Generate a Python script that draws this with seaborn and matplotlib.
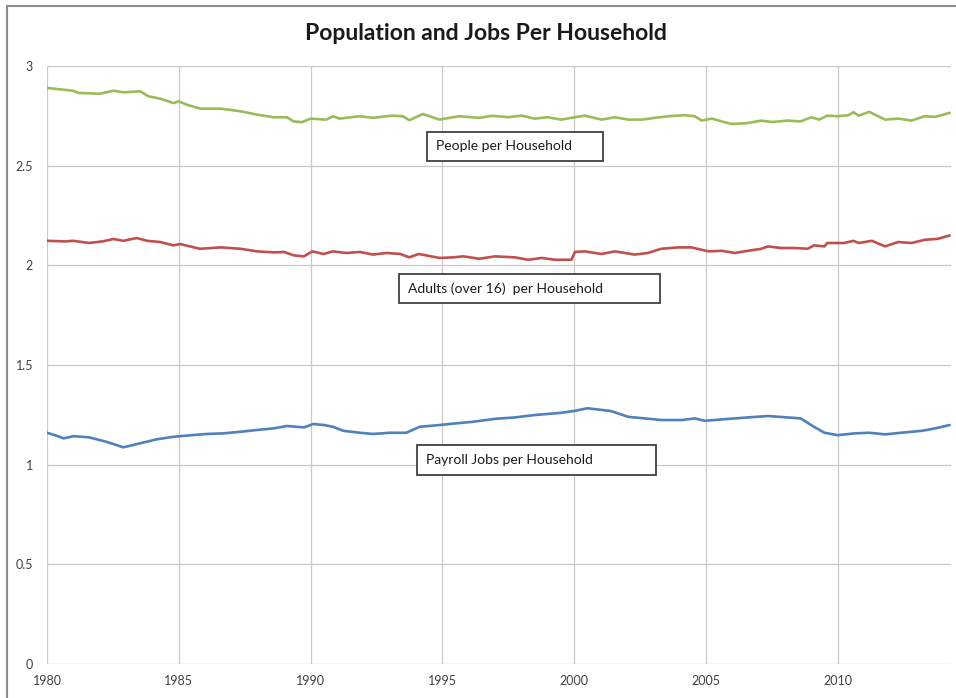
import matplotlib
matplotlib.use("Agg")
import matplotlib.pyplot as plt
from matplotlib.patches import Rectangle
import numpy as np
import pandas as pd
import seaborn as sns

# ---- data -------------------------------------------------------------
people_years = [1980.0, 1980.62, 1980.99, 1981.19, 1982.01, 1982.52, 1982.9, 1983.53,
                1983.85, 1984.3, 1984.8, 1985.0, 1985.3, 1985.82, 1986.58, 1987.34,
                1987.97, 1988.6, 1989.1, 1989.36, 1989.67, 1990.0, 1990.6, 1990.85,
                1991.1, 1991.87, 1992.37, 1993.1, 1993.5, 1993.75, 1994.26, 1994.9,
                1995.1, 1995.65, 1996.4, 1996.9, 1997.5, 1998.0, 1998.5, 1999.0,
                1999.5, 2000.03, 2000.4, 2001.04, 2001.55, 2002.05, 2002.56, 2003.07,
                2003.57, 2004.2, 2004.58, 2004.84, 2005.22, 2005.6, 2005.98, 2006.6,
                2007.1, 2007.5, 2008.1, 2008.6, 2009.0, 2009.3, 2009.6, 2010.0,
                2010.4, 2010.6, 2010.8, 2011.2, 2011.8, 2012.3, 2012.8, 2013.3,
                2013.7, 2014.25]
people_vals = [2.890, 2.881, 2.876, 2.865, 2.861, 2.876, 2.868, 2.873,
               2.848, 2.836, 2.814, 2.823, 2.806, 2.786, 2.786, 2.773,
               2.756, 2.743, 2.743, 2.722, 2.718, 2.736, 2.731, 2.748,
               2.736, 2.748, 2.740, 2.751, 2.748, 2.728, 2.759, 2.731,
               2.736, 2.748, 2.740, 2.750, 2.743, 2.751, 2.736, 2.743,
               2.731, 2.743, 2.751, 2.731, 2.743, 2.731, 2.731, 2.740,
               2.748, 2.753, 2.748, 2.726, 2.736, 2.722, 2.709, 2.714,
               2.726, 2.719, 2.726, 2.722, 2.743, 2.731, 2.751, 2.748,
               2.753, 2.768, 2.751, 2.770, 2.731, 2.736, 2.726, 2.748,
               2.745, 2.765]

adult_years = [1980.0, 1980.7, 1981.0, 1981.6, 1982.1, 1982.52, 1982.9, 1983.4,
               1983.8, 1984.3, 1984.8, 1985.05, 1985.8, 1986.6, 1987.34, 1987.97,
               1988.6, 1989.0, 1989.36, 1989.75, 1990.06, 1990.5, 1990.85, 1991.35,
               1991.87, 1992.37, 1992.88, 1993.4, 1993.75, 1994.1, 1994.9, 1995.4,
               1995.8, 1996.4, 1997.0, 1997.75, 1998.26, 1998.77, 1999.27, 1999.9,
               2000.03, 2000.4, 2001.04, 2001.55, 2002.3, 2002.8, 2003.3, 2003.95,
               2004.45, 2005.1, 2005.6, 2006.1, 2006.6, 2007.1, 2007.35, 2007.85,
               2008.36, 2008.86, 2009.1, 2009.5, 2009.6, 2010.25, 2010.6, 2010.8,
               2011.3, 2011.8, 2012.3, 2012.8, 2013.3, 2013.8, 2014.25]
adult_vals = [2.123, 2.120, 2.123, 2.112, 2.120, 2.132, 2.123, 2.137,
              2.123, 2.117, 2.100, 2.107, 2.083, 2.090, 2.083, 2.070,
              2.065, 2.067, 2.050, 2.045, 2.070, 2.057, 2.070, 2.062,
              2.067, 2.054, 2.062, 2.057, 2.040, 2.057, 2.037, 2.040,
              2.045, 2.033, 2.045, 2.040, 2.028, 2.037, 2.028, 2.028,
              2.067, 2.070, 2.057, 2.070, 2.054, 2.062, 2.083, 2.090,
              2.090, 2.070, 2.073, 2.062, 2.073, 2.083, 2.095, 2.087,
              2.087, 2.083, 2.100, 2.095, 2.112, 2.112, 2.123, 2.112,
              2.123, 2.095, 2.117, 2.112, 2.128, 2.133, 2.150]

jobs_years = [1980.0, 1980.3, 1980.63, 1981.0, 1981.6, 1982.25, 1982.9, 1983.53,
              1984.16, 1984.8, 1985.4, 1986.06, 1986.7, 1987.34, 1987.97, 1988.6,
              1989.1, 1989.75, 1990.1, 1990.5, 1990.85, 1991.24, 1991.87, 1992.37,
              1993.0, 1993.63, 1994.14, 1994.9, 1995.5, 1996.15, 1997.0, 1997.75,
              1998.5, 1999.5, 2000.03, 2000.5, 2001.4, 2002.05, 2002.7, 2003.3,
              2004.1, 2004.58, 2004.96, 2005.6, 2006.1, 2006.6, 2007.35, 2008.1,
              2008.6, 2009.1, 2009.5, 2010.0, 2010.65, 2011.2, 2011.8, 2012.4,
              2013.2, 2013.7, 2014.25]
jobs_vals = [1.160, 1.148, 1.132, 1.143, 1.137, 1.115, 1.087, 1.107,
             1.127, 1.140, 1.147, 1.154, 1.157, 1.165, 1.174, 1.182,
             1.194, 1.187, 1.204, 1.199, 1.190, 1.170, 1.160, 1.154,
             1.160, 1.160, 1.190, 1.199, 1.207, 1.215, 1.230, 1.237,
             1.249, 1.260, 1.270, 1.283, 1.269, 1.240, 1.232, 1.224,
             1.224, 1.232, 1.220, 1.227, 1.232, 1.237, 1.244, 1.237,
             1.232, 1.190, 1.160, 1.148, 1.157, 1.160, 1.152, 1.160,
             1.170, 1.182, 1.199]

series_names = ["People per Household", "Adults (over 16)  per Household",
                "Payroll Jobs per Household"]
series_colors = ["#9BBB59", "#C0504D", "#4F81BD"]
x_ticks = [1980, 1985, 1990, 1995, 2000, 2005, 2010]
y_ticks = [0, 0.5, 1, 1.5, 2, 2.5, 3]

# ---- frame ------------------------------------------------------------
frames = []
for name, yrs, vals in zip(series_names,
                           [people_years, adult_years, jobs_years],
                           [people_vals, adult_vals, jobs_vals]):
    frames.append(pd.DataFrame({"year": yrs, "value": vals, "series": name}))
df = pd.concat(frames, ignore_index=True)

sns.set_theme(style="white")
plt.rcParams["font.family"] = ["Lato", "DejaVu Sans"]

W, H = 956, 698
fig = plt.figure(figsize=(W / 100, H / 100), dpi=100)
fig.patch.set_facecolor("white")

def px(x0, y0, x1, y1):
    """Figure-fraction rectangle from pixel corners (top-left origin)."""
    return [x0 / W, 1 - y1 / H, (x1 - x0) / W, (y1 - y0) / H]

ax = fig.add_axes(px(47, 66, 951, 664))

sns.lineplot(data=df, x="year", y="value", hue="series", hue_order=series_names,
             palette=series_colors, linewidth=1.9, legend=False, ax=ax,
             estimator=None, sort=True)

ax.set_xlim(1980, 2014.3)
ax.set_ylim(0, 3)
ax.set_xticks(x_ticks)
ax.set_yticks(y_ticks)
ax.set_xticklabels([str(t) for t in x_ticks])
ax.set_yticklabels(["0", "0.5", "1", "1.5", "2", "2.5", "3"])
ax.grid(True, color="#C9C9C9", linewidth=0.9)
ax.set_axisbelow(True)
for s in ax.spines.values():
    s.set_visible(False)
ax.tick_params(axis="both", length=0, labelsize=9, colors="#404040")
ax.tick_params(axis="y", pad=10)
ax.tick_params(axis="x", pad=8)
ax.set_xlabel("")
ax.set_ylabel("")

# outer chart border
fig.add_artist(Rectangle((7 / W, 1 - 705 / H), 960 / W, 699 / H,
                         transform=fig.transFigure, fill=False,
                         edgecolor="#8C8C8C", linewidth=1.5))

fig.text(486 / W, 1 - 33 / H, "Population and Jobs Per Household",
         ha="center", va="center", fontsize=16.5, fontweight="bold", color="#1A1A1A")

# labelled boxes
boxes = [
    (427, 132, 603, 161, series_names[0]),
    (399, 274, 660, 303, series_names[1]),
    (417, 445, 656, 475, series_names[2]),
]
for x0, y0, x1, y1, label in boxes:
    fig.add_artist(Rectangle((x0 / W, 1 - y1 / H), (x1 - x0) / W, (y1 - y0) / H,
                             transform=fig.transFigure, facecolor="white",
                             edgecolor="#404040", linewidth=1.3, zorder=5))
    fig.text((x0 + 9) / W, 1 - ((y0 + y1) / 2) / H, label, ha="left", va="center",
             fontsize=10, color="#1A1A1A", zorder=6)

fig.savefig("out.png", dpi=100)
